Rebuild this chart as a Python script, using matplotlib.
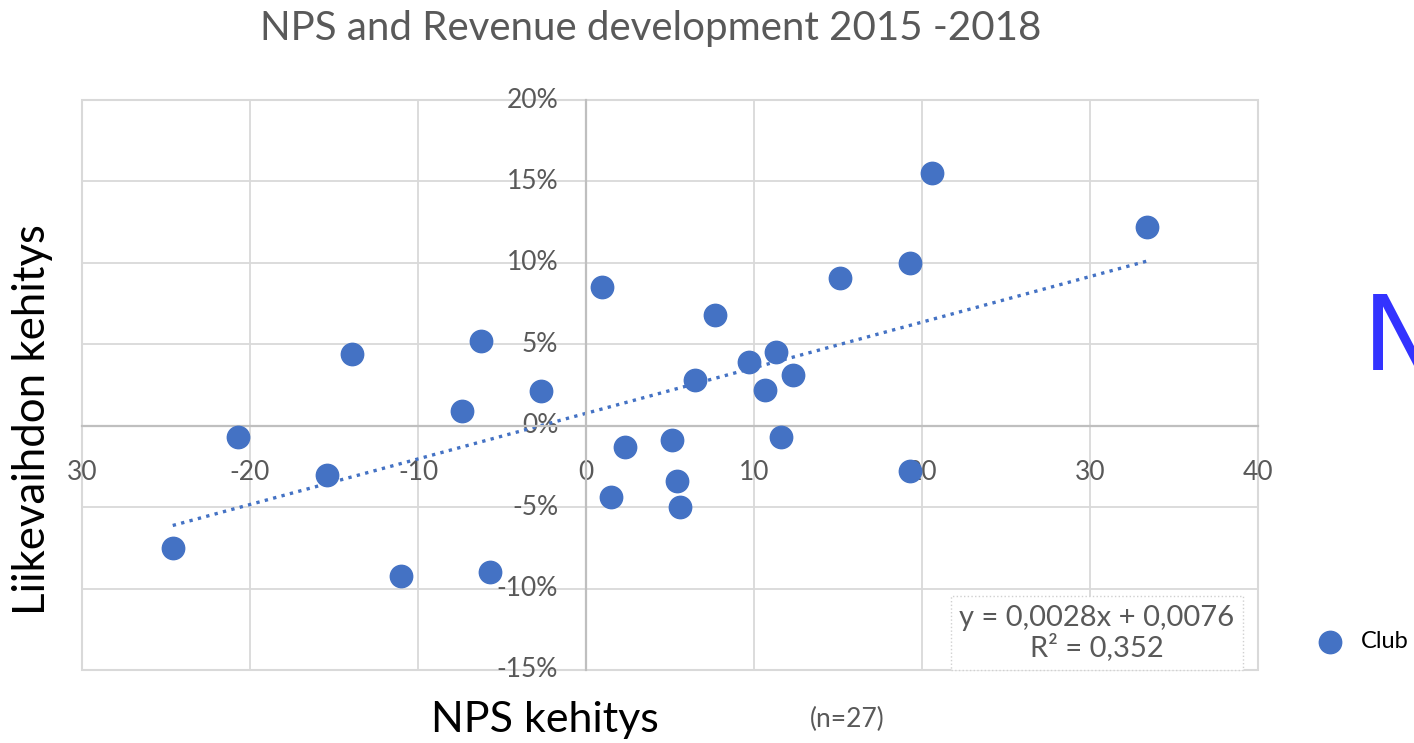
import matplotlib.pyplot as plt
from matplotlib.patches import Rectangle

# NPS change vs revenue change (%), one point per club
nps_change = [-24.6, -20.7, -15.4, -13.9, -11.0, -7.4, -6.25, -5.7, -2.7,
              0.95, 1.5, 2.3, 5.1, 5.4, 5.6, 6.5, 7.7, 9.7, 10.65, 11.3,
              11.6, 12.3, 15.1, 19.3, 19.3, 20.6, 33.4]
revenue_change = [-7.5, -0.7, -3.0, 4.4, -9.2, 0.9, 5.2, -9.0, 2.1,
                  8.5, -4.4, -1.3, -0.9, -3.4, -5.0, 2.8, 6.8, 3.9, 2.2, 4.5,
                  -0.7, 3.1, 9.1, 10.0, -2.8, 15.5, 12.2]

slope = 0.28
intercept = 0.76

x_ticks = [-30, -20, -10, 0, 10, 20, 30, 40]
x_tick_labels = ['30', '-20', '-10', '0', '10', '20', '30', '40']
y_ticks = [-15, -10, -5, 0, 5, 10, 15, 20]
y_tick_labels = ['-15%', '-10%', '-5%', '0%', '5%', '10%', '15%', '20%']

blue = '#4472C4'
gray_text = '#595959'
plt.rcParams['font.family'] = ['Lato', 'DejaVu Sans']

fig = plt.figure(figsize=(14.14, 7.43), dpi=100)
ax = fig.add_axes([0.058, 0.0983, 0.8317, 0.7671])

ax.set_xlim(-30, 40)
ax.set_ylim(-15, 20)
ax.set_xticks(x_ticks)
ax.set_xticklabels(x_tick_labels)
ax.set_yticks(y_ticks)
ax.set_yticklabels(y_tick_labels)
ax.grid(True, color='#D9D9D9', linewidth=1.3)
ax.set_axisbelow(True)

ax.spines['left'].set_position(('data', 0))
ax.spines['bottom'].set_position(('data', 0))
for s in ['left', 'bottom']:
    ax.spines[s].set_color('#BFBFBF')
    ax.spines[s].set_linewidth(1.6)
ax.spines['top'].set_visible(False)
ax.spines['right'].set_visible(False)
ax.add_patch(Rectangle((0, 0), 1, 1, transform=ax.transAxes, fill=False,
                       edgecolor='#D9D9D9', linewidth=1.5, clip_on=False, zorder=0.5))

ax.tick_params(axis='x', length=0, pad=25, labelsize=19, labelcolor=gray_text)
ax.tick_params(axis='y', length=0, pad=20, labelsize=19, labelcolor=gray_text)
for lbl in ax.get_yticklabels():
    lbl.set_verticalalignment('center')

ax.scatter(nps_change, revenue_change, s=260, color=blue, zorder=3, label='Club')

x0, x1 = min(nps_change), max(nps_change)
ax.plot([x0, x1], [slope * x0 + intercept, slope * x1 + intercept],
        color=blue, linewidth=2.4, linestyle=(0, (1, 1.6)), zorder=2)

ax.text(0.863, 0.065, 'y = 0,0028x + 0,0076\nR² = 0,352', transform=ax.transAxes,
        ha='center', va='center', fontsize=21, color=gray_text, linespacing=1.1,
        bbox=dict(facecolor='white', edgecolor='#D0D0D0', linestyle=':', boxstyle='square,pad=0.3'),
        zorder=4)

fig.text(0.460, 0.962, 'NPS and Revenue development 2015 -2018', ha='center', va='center',
         fontsize=29, color=gray_text)
fig.text(0.023, 0.435, 'Liikevaihdon kehitys', rotation=90, ha='center', va='center',
         fontsize=31.5, color='black')
fig.text(0.385, 0.031, 'NPS kehitys', ha='center', va='center', fontsize=31, color='black')
fig.text(0.599, 0.031, '(n=27)', ha='center', va='center', fontsize=19, color=gray_text)
fig.text(0.964, 0.540, 'N', ha='left', va='center', fontsize=74, color='#3333FF',
         family=['Liberation Sans Narrow', 'DejaVu Sans'])

fig.legend(loc='center left', bbox_to_anchor=(0.909, 0.136), frameon=False,
           fontsize=17, handletextpad=0.3)

fig.savefig('out.png', dpi=100)
